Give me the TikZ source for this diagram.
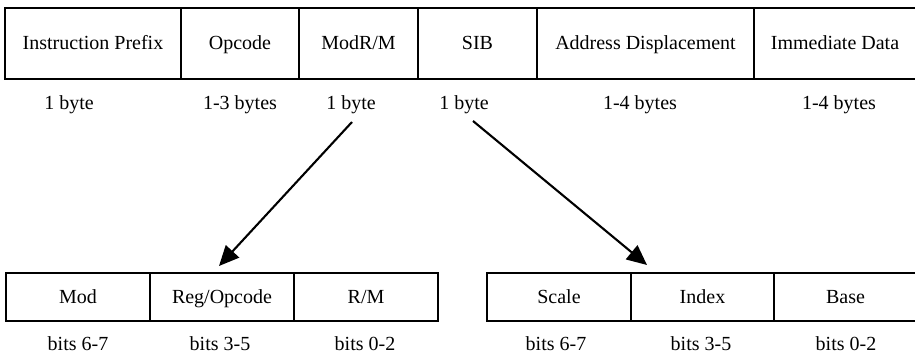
\documentclass[tikz,border=0pt]{standalone}
\usepackage{fontspec}
\setmainfont{Liberation Serif}
\usetikzlibrary{arrows.meta}
\begin{document}
\begin{tikzpicture}[x=1pt,y=-1pt,
  cell/.style={draw, line width=1.4pt, inner sep=0pt, outer sep=0pt,
    text height=0.7em, text depth=0.1em},
  topcell/.style={cell, minimum height=71pt},
  botcell/.style={cell, minimum height=48pt},
  lbl/.style={inner sep=0pt, anchor=base},
  ptr/.style={line width=2.1pt, -{Triangle[length=20pt,width=18pt]}}
]
\useasboundingbox (0,0) rectangle (915,355);
\clip (0,0) rectangle (915,355);
\fontsize{20pt}{24pt}\selectfont
% top row
\node[topcell, minimum width=176pt] (c1) at (93,43.5) {Instruction Prefix};
\node[topcell, minimum width=118pt] (c2) at (240,43.5) {Opcode};
\node[topcell, minimum width=119pt] (c3) at (358.5,43.5) {ModR/M};
\node[topcell, minimum width=119pt] (c4) at (477.5,43.5) {SIB};
\node[topcell, minimum width=217pt] (c5) at (645.5,43.5) {Address Displacement};
\node[topcell, minimum width=162pt] (c6) at (835,43.5) {Immediate Data};
% sizes
\node[lbl] (s1) at (69,110) {1 byte};
\node[lbl] (s2) at (240,110) {1-3 bytes};
\node[lbl] (s3) at (351,110) {1 byte};
\node[lbl] (s4) at (464,110) {1 byte};
\node[lbl] (s5) at (640,110) {1-4 bytes};
\node[lbl] (s6) at (839,110) {1-4 bytes};
% ModR/M fields
\node[botcell, minimum width=144pt] (mod) at (78,297) {Mod};
\node[botcell, minimum width=144pt] (reg) at (222,297) {Reg/Opcode};
\node[botcell, minimum width=144pt] (rm) at (366,297) {R/M};
\node[lbl] (b1) at (78,350.7) {bits 6-7};
\node[lbl] (b2) at (220,350.7) {bits 3-5};
\node[lbl] (b3) at (365,350.7) {bits 0-2};
% SIB fields
\node[botcell, minimum width=144pt] (scale) at (559,297) {Scale};
\node[botcell, minimum width=143pt] (index) at (702.5,297) {Index};
\node[botcell, minimum width=143pt] (base) at (845.5,297) {Base};
\node[lbl] (b4) at (556,350.7) {bits 6-7};
\node[lbl] (b5) at (701,350.7) {bits 3-5};
\node[lbl] (b6) at (846,350.7) {bits 0-2};
% arrows
\coordinate (a1s) at (352,122);
\coordinate (a1e) at (219,266);
\coordinate (a2s) at (473,121);
\coordinate (a2e) at (647,265);
\draw[ptr] (a1s) -- (a1e);
\draw[ptr] (a2s) -- (a2e);
\end{tikzpicture}
\end{document}
